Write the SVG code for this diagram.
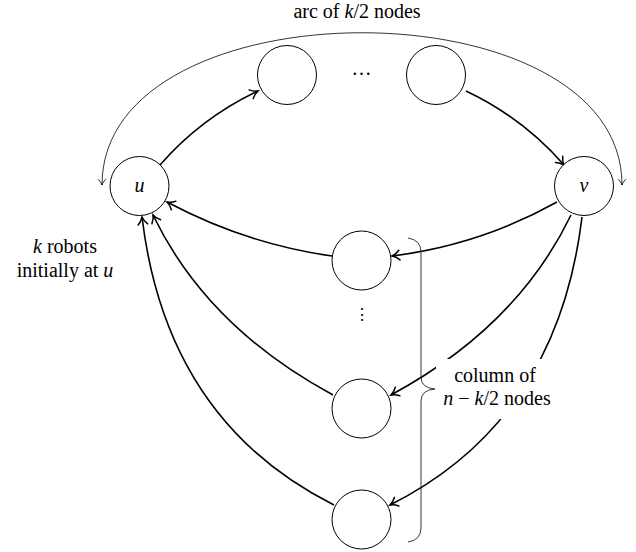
<svg xmlns="http://www.w3.org/2000/svg" width="636" height="552" viewBox="0 0 636 552">
<style>
.node{fill:#fff;stroke:#000;stroke-width:1}
.edge{fill:none;stroke:#000;stroke-width:1.6;marker-end:url(#ah)}
.thin{fill:none;stroke:#000;stroke-width:0.8}
.lbl{font-family:"Liberation Serif",serif;font-size:20px;fill:#000}
.m{font-style:italic}
</style>
<defs>
<marker id="ah" markerUnits="userSpaceOnUse" viewBox="-10 -7 12 14" markerWidth="12" markerHeight="14" refX="0" refY="0" orient="auto">
<path d="M-7.5,-4.8 C-5,-2.2 -2,-0.6 0,0 C-2,0.6 -5,2.2 -7.5,4.8" fill="none" stroke="#000" stroke-width="1.5" stroke-linecap="round"/>
</marker>
<marker id="ahs" markerUnits="userSpaceOnUse" viewBox="-8 -6 10 12" markerWidth="10" markerHeight="12" refX="0" refY="0" orient="auto-start-reverse">
<path d="M-5.5,-3.6 C-3.6,-1.6 -1.4,-0.4 0,0 C-1.4,0.4 -3.6,1.6 -5.5,3.6" fill="none" stroke="#000" stroke-width="0.9" stroke-linecap="round"/>
</marker>
</defs>

<g id="connectors">
<path class="thin" d="M102,185 C102,-18 622,-18 622,185" marker-start="url(#ahs)" marker-end="url(#ahs)"/>
<path class="edge" d="M160,165 Q201,118 258,91"/>
<path class="edge" d="M466,91 Q523,118 564,165"/>
<path class="edge" d="M557,202 Q480,245 392,256"/>
<path class="edge" d="M332,256 Q246,244 167,202"/>
<path class="edge" d="M571,215 Q517,327 391,395"/>
<path class="edge" d="M333,395 Q207,327 153,215"/>
<path class="edge" d="M582,217 Q557.5,421 390,505"/>
<path class="edge" d="M334,505 Q166.5,421 142,217"/>
</g>

<g id="node-u"><circle class="node" cx="139.5" cy="186" r="29.5"/><text class="lbl m" x="139.5" y="192" text-anchor="middle" font-size="19">u</text></g>
<g id="node-v"><circle class="node" cx="584" cy="186" r="29.5"/><text class="lbl m" x="584" y="192" text-anchor="middle" font-size="19">v</text></g>
<g id="node-arc1"><circle class="node" cx="287" cy="75" r="29.5"/></g>
<g id="node-arc2"><circle class="node" cx="436" cy="75" r="29.5"/></g>
<g id="node-col1"><circle class="node" cx="361.5" cy="260.5" r="29.5"/></g>
<g id="node-col2"><circle class="node" cx="361.5" cy="408.5" r="29.5"/></g>
<g id="node-col3"><circle class="node" cx="361.5" cy="519.5" r="29.5"/></g>

<g id="dots">
<text class="lbl" x="361.5" y="75" text-anchor="middle">…</text>
<text x="361.5" y="320" text-anchor="middle" font-family="DejaVu Serif, serif" font-size="16">⋮</text>
</g>

<g id="brace">
<path d="M408,238 Q421,240 421,252 L421,377 Q421,388 435,389 Q421,390 421,401 L421,528 Q421,540 408,542" fill="none" stroke="#222" stroke-width="0.9"/>
</g>

<g id="labels">
<text class="lbl" x="357" y="18" text-anchor="middle">arc of <tspan class="m">k</tspan>/2 nodes</text>
<text class="lbl" x="65" y="253" text-anchor="middle"><tspan class="m">k</tspan> robots</text>
<text class="lbl" x="65" y="277" text-anchor="middle">initially at <tspan class="m">u</tspan></text>
<rect x="436" y="359" width="122" height="60" fill="#fff"/>
<text class="lbl" x="495" y="382" text-anchor="middle">column of</text>
<text class="lbl" x="497" y="405" text-anchor="middle"><tspan class="m">n</tspan> − <tspan class="m">k</tspan>/2 nodes</text>
</g>
</svg>
